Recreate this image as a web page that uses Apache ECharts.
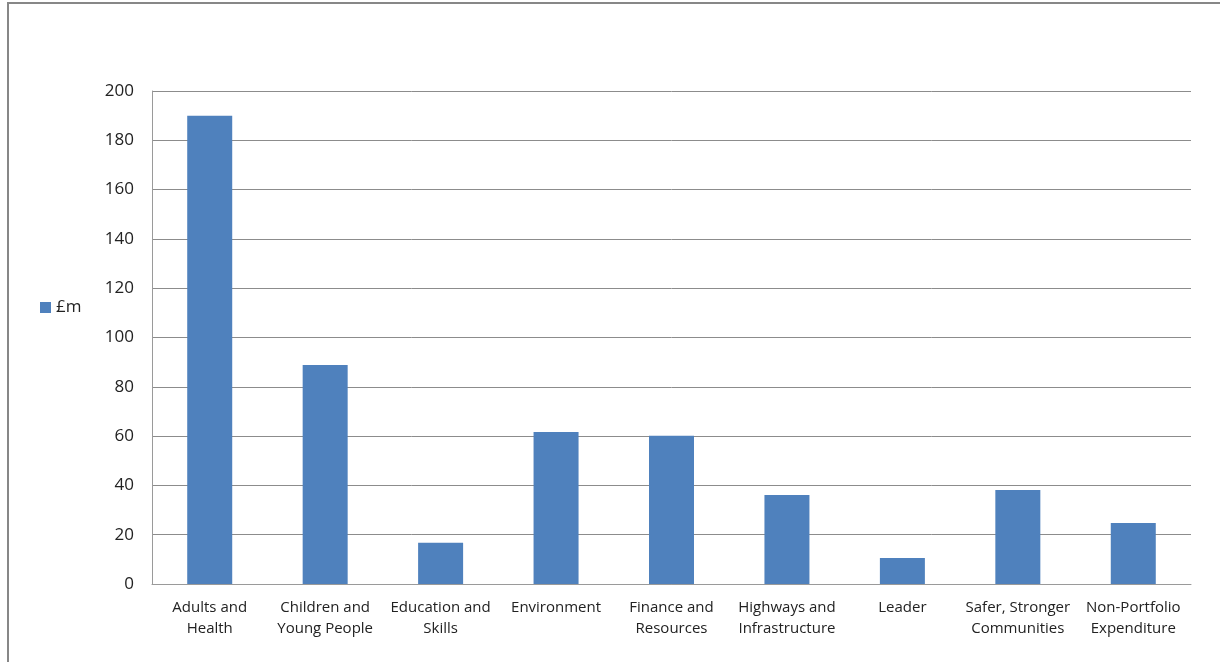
<!DOCTYPE html>
<html>
<head>
<meta charset="utf-8">
<script src="https://cdn.jsdelivr.net/npm/echarts@6/dist/echarts.min.js"></script>
<style>
html, body { margin: 0; padding: 0; background: #fff; }
#chart { width: 1220px; height: 662px; }
</style>
</head>
<body>
<div id="chart"></div>
<script>
// portfolio names (line breaks as in the original axis)
const categories = [
    'Adults and\nHealth',
    'Children and\nYoung People',
    'Education and\nSkills',
    'Environment',
    'Finance and\nResources',
    'Highways and\nInfrastructure',
    'Leader',
    'Safer, Stronger\nCommunities',
    'Non-Portfolio\nExpenditure'
]
const values = [190, 88.8, 16.7, 61.7, 60.1, 36.1, 10.5, 38.1, 24.7]
const seriesName = '£m'

let mychart = echarts.init(document.getElementById('chart'))
let option = {
    backgroundColor: '#fff',
    animation: false,
    textStyle: { fontFamily: '"Open Sans", "DejaVu Sans", sans-serif' },
    graphic: [
        {
            type: 'rect',
            shape: { x: 8, y: 3, width: 1240, height: 700 },
            style: { fill: 'none', stroke: '#878787', lineWidth: 2 },
            silent: true
        }
    ],
    legend: {
        left: 35,
        top: 294,
        orient: 'vertical',
        icon: 'rect',
        itemWidth: 11,
        itemHeight: 11,
        itemGap: 5,
        textStyle: { color: '#222', fontSize: 17 },
        data: [seriesName]
    },
    grid: {
        left: 152,
        right: 29,
        top: 91,
        bottom: 78
    },
    xAxis: {
        type: 'category',
        data: categories,
        axisLine: { show: true, lineStyle: { color: '#9a9a9a', width: 1 } },
        axisTick: { show: false },
        axisLabel: {
            color: '#222',
            fontSize: 15,
            lineHeight: 21,
            margin: 13,
            interval: 0
        },
        splitLine: { show: false }
    },
    yAxis: {
        type: 'value',
        min: 0,
        max: 200,
        interval: 20,
        axisLine: { show: true, lineStyle: { color: '#9a9a9a', width: 1 } },
        axisTick: { show: false },
        axisLabel: { color: '#222', fontSize: 17, margin: 18 },
        splitLine: { show: true, lineStyle: { color: '#8c8c8c', width: 1 } }
    },
    series: [
        {
            name: seriesName,
            type: 'bar',
            data: values,
            barWidth: 45,
            itemStyle: { color: '#4f81bd' }
        }
    ]
}
mychart.setOption(option)
</script>
</body>
</html>
